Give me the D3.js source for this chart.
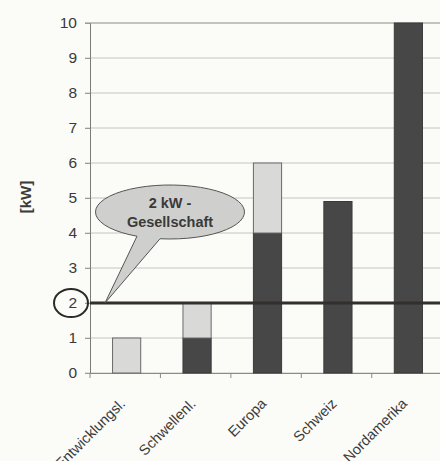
<!DOCTYPE html>
<html>
<head>
<meta charset="utf-8">
<script src="https://cdn.jsdelivr.net/npm/d3@7"></script>
<style>
  html, body { margin: 0; padding: 0; background: #fbfbf7; }
  svg { display: block; }
</style>
</head>
<body>
<svg id="chart_svg" width="440" height="461"></svg>
<script>
// chart data
const categories = ['Entwicklungsl.', 'Schwellenl.', 'Europa', 'Schweiz', 'Nordamerika'];
const dark_values = [0, 1, 4, 4.9, 10];
const light_values = [1, 1, 2, 0, 0];
const y_ticks = [0, 1, 2, 3, 4, 5, 6, 7, 8, 9, 10];
const target_value = 2;
const bubble_lines = ['2 kW -', 'Gesellschaft'];

const margin = { top: 23, bottom: 88, left: 90, right: -5 };
const width = 440;
const height = 461;

let svg = d3.select('#chart_svg');

const xScale = d3
  .scaleBand()
  .domain(categories)
  .range([margin.left, width - margin.right])
  .paddingInner(0.6)
  .paddingOuter(0.32);

const yScale = d3
  .scaleLinear()
  .domain([0, 10])
  .range([height - margin.bottom, margin.top]);

/**
 * grid lines
 */
svg.append('g')
  .selectAll('line')
  .data(y_ticks)
  .enter()
  .append('line')
  .attr('x1', margin.left - 5)
  .attr('x2', width)
  .attr('y1', (d) => yScale(d))
  .attr('y2', (d) => yScale(d))
  .attr('stroke', (d) => (d === 10 ? '#8a8a8a' : '#c4c4c0'))
  .attr('stroke-width', 1);

/**
 * y axis
 */
let y_axis = d3.axisLeft(yScale).tickValues(y_ticks).tickSize(5).tickPadding(8);
let g_y = svg.append('g')
  .attr('transform', 'translate(' + margin.left + ',0)')
  .call(y_axis);
g_y.select('.domain').attr('stroke', '#7a7a7a');
g_y.selectAll('.tick line').attr('stroke', '#9a9a9a');
g_y.selectAll('.tick text')
  .attr('font-family', 'Liberation Sans, Arial, sans-serif')
  .attr('font-size', 15.5)
  .attr('fill', '#3a3a3a');

/**
 * x axis
 */
let x_axis = d3.axisBottom(xScale).tickSize(0).tickPadding(0);
let g_x = svg.append('g')
  .attr('transform', 'translate(0,' + yScale(0) + ')')
  .call(x_axis);
g_x.select('.domain').attr('stroke', '#8a8a8a');
g_x.selectAll('.tick text')
  .attr('font-family', 'Liberation Sans, Arial, sans-serif')
  .attr('font-size', 14.5)
  .attr('fill', '#3a3a3a')
  .attr('text-anchor', 'end')
  .attr('transform', 'translate(-4,28) rotate(-45)')
  .attr('dy', '0.35em');

// tick marks between categories
const step = xScale.step();
svg.append('g')
  .selectAll('line')
  .data(d3.range(categories.length + 1))
  .enter()
  .append('line')
  .attr('x1', (i) => margin.left + i * step)
  .attr('x2', (i) => margin.left + i * step)
  .attr('y1', yScale(0))
  .attr('y2', yScale(0) + 5)
  .attr('stroke', '#8a8a8a');

/**
 * stacked bars
 */
let bars = svg.append('g');
bars.selectAll('.dark_bar')
  .data(categories)
  .enter()
  .append('rect')
  .attr('class', 'dark_bar')
  .attr('x', (d) => xScale(d))
  .attr('width', xScale.bandwidth())
  .attr('y', (d, i) => yScale(dark_values[i]))
  .attr('height', (d, i) => yScale(0) - yScale(dark_values[i]))
  .attr('fill', '#474747')
  .attr('stroke', '#3a3a3a')
  .attr('stroke-width', (d, i) => (dark_values[i] > 0 ? 1 : 0));

bars.selectAll('.light_bar')
  .data(categories)
  .enter()
  .append('rect')
  .attr('class', 'light_bar')
  .attr('x', (d) => xScale(d))
  .attr('width', xScale.bandwidth())
  .attr('y', (d, i) => yScale(dark_values[i] + light_values[i]))
  .attr('height', (d, i) => yScale(dark_values[i]) - yScale(dark_values[i] + light_values[i]))
  .attr('fill', '#d9d9d7')
  .attr('stroke', '#6a6a6a')
  .attr('stroke-width', (d, i) => (light_values[i] > 0 ? 1 : 0));

/**
 * 2 kW line
 */
svg.append('line')
  .attr('x1', margin.left)
  .attr('x2', width)
  .attr('y1', yScale(target_value))
  .attr('y2', yScale(target_value))
  .attr('stroke', '#332f2c')
  .attr('stroke-width', 3);

// circle round the "2" tick label
svg.append('ellipse')
  .attr('cx', margin.left - 19)
  .attr('cy', yScale(target_value))
  .attr('rx', 17)
  .attr('ry', 14)
  .attr('fill', 'none')
  .attr('stroke', '#2a2a2a')
  .attr('stroke-width', 2);

/**
 * speech bubble
 */
const bx = 170, by = yScale(target_value) - 91, rx = 74.5, ry = 27;
const tip_x = margin.left + 15, tip_y = yScale(target_value);
const t1 = 160, t2 = 137;
const t1y = by + ry * Math.sqrt(1 - Math.pow((t1 - bx) / rx, 2));
const t2y = by + ry * Math.sqrt(1 - Math.pow((t2 - bx) / rx, 2));
svg.append('path')
  .attr('d', `M ${t1} ${t1y} A ${rx} ${ry} 0 1 0 ${t2} ${t2y} L ${tip_x} ${tip_y} Z`)
  .attr('fill', '#cfcfcd')
  .attr('stroke', '#555')
  .attr('stroke-width', 1);

svg.append('g')
  .selectAll('text')
  .data(bubble_lines)
  .enter()
  .append('text')
  .attr('x', bx)
  .attr('y', (d, i) => by - 4 + i * 19)
  .attr('text-anchor', 'middle')
  .attr('font-family', 'Liberation Sans, Arial, sans-serif')
  .attr('font-weight', 'bold')
  .attr('font-size', 14.5)
  .attr('fill', '#3a3a3a')
  .text((d) => d);

/**
 * y axis label
 */
svg.append('text')
  .attr('transform', 'translate(31,' + 197 + ') rotate(-90)')
  .attr('text-anchor', 'middle')
  .attr('font-family', 'Liberation Sans, Arial, sans-serif')
  .attr('font-weight', 'bold')
  .attr('font-size', 15)
  .attr('fill', '#3a3a3a')
  .text('[kW]');
</script>
</body>
</html>
